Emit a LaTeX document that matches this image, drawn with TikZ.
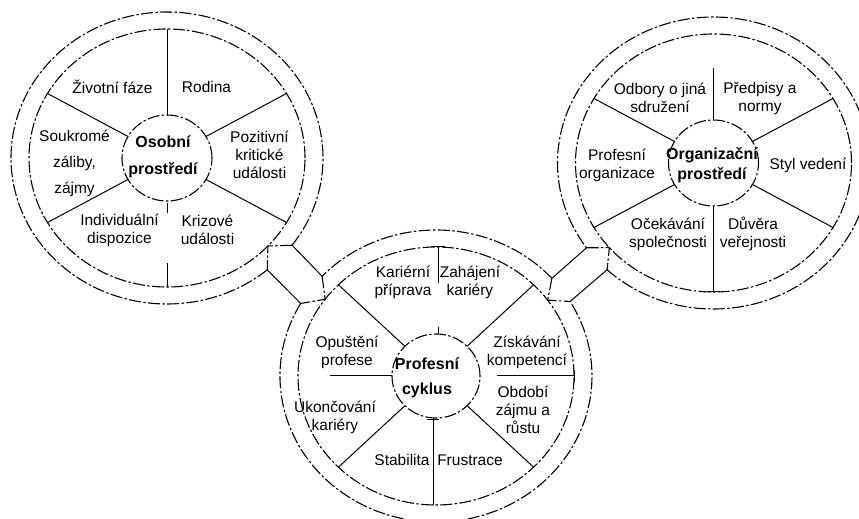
\documentclass[tikz,border=0pt]{standalone}
\usepackage{fontspec}
\setmainfont{Liberation Sans}

\begin{document}
\begin{tikzpicture}[x=0.5pt,y=0.5pt,
    ring/.style={line width=0.55pt,dash pattern=on 6pt off 1.2pt on 1.2pt off 1.2pt},
    spoke/.style={line width=0.5pt},
    lbl/.style={font=\fontsize{7.75}{9}\selectfont,align=center,inner sep=0pt},
    hub/.style={font=\fontsize{8}{9}\selectfont\bfseries,align=center,inner sep=0pt}]
    \clip (0,0) rectangle (859,-519);

    % Osobni prostredi
    \begin{scope}[shift={(167,-158)}]
        \draw[ring] (0,0) ellipse [x radius=45,y radius=43];
        \draw[ring] (0,0) ellipse [x radius=138,y radius=129];
        \draw[ring] (-36.7:156 and 146)
            arc[start angle=-36.7,end angle=310,x radius=156,y radius=146];
        \coordinate (lA) at (-36.7:156 and 146);
        \coordinate (lB) at (-43:138 and 129);
        \coordinate (lC) at (-50:156 and 146);
        \draw[spoke] (90:45 and 43) -- (90:138 and 129);
        \draw[spoke] (30:45 and 43) -- (30:138 and 129);
        \draw[spoke] (150:45 and 43) -- (150:138 and 129);
        \draw[spoke] (210:45 and 43) -- (210:138 and 129);
        \draw[spoke] (330:45 and 43) -- (330:138 and 129);
        \draw[spoke] (0,-45) -- (0,-55);
        \draw[spoke] (0,-105) -- (0,-129);
        \node[lbl] (zivotni) at (-54.5,71) {Životní fáze};
        \node[lbl] (rodina) at (39.5,71) {Rodina};
        \node[lbl] (pozitivni) at (92.5,3) {Pozitivní\\kritické\\události};
        \node[lbl] (soukrome) at (-92.5,-5) {Soukromé\\[4pt]záliby,\\[4pt]zájmy};
        \node[lbl] (individualni) at (-47.5,-72) {Individuální\\dispozice};
        \node[lbl] (krizove) at (40.5,-72) {Krizové\\události};
        \node[hub] (osobni) at (-4,1) {Osobní\\[4.5pt]prostředí};
    \end{scope}

    % Profesni cyklus
    \begin{scope}[shift={(436,-376)}]
        \draw[ring] (0,0) ellipse [x radius=44,y radius=42];
        \draw[ring] (0,0) ellipse [x radius=138,y radius=129];
        \draw[ring] (42:156 and 146)
            arc[start angle=42,end angle=136.9,x radius=156,y radius=146];
        \draw[ring] (150.2:156 and 146)
            arc[start angle=150.2,end angle=390.7,x radius=156,y radius=146];
        \coordinate (mE) at (136.9:156 and 146);
        \coordinate (mD) at (143.5:138 and 129);
        \coordinate (mF) at (150.2:156 and 146);
        \coordinate (mG) at (42:156 and 146);
        \coordinate (mH) at (36:138 and 129);
        \coordinate (mK) at (30.7:156 and 146);
        \draw[spoke] (2,129) -- (2,93);
        \draw[spoke] (-5,129) -- (9,129);
        \draw[spoke] (2,49) -- (2,42);
        \draw[spoke] (45:44 and 42) -- (45:138 and 129);
        \draw[spoke] (61,0) -- (138,0);
        \draw[spoke] (138,-6) -- (138,6);
        \draw[spoke] (-45:44 and 42) -- (-45:138 and 129);
        \draw[spoke] (-3,-42) -- (-3,-129);
        \draw[spoke] (-9,-44) -- (3,-44);
        \draw[spoke] (-135:44 and 42) -- (-135:138 and 129);
        \draw[spoke] (-106,0) -- (-44,0);
        \draw[spoke] (135:44 and 42) -- (135:138 and 129);
        \node[lbl] (karierni) at (-33,94) {Kariérní\\příprava};
        \node[lbl] (zahajeni) at (34,94) {Zahájení\\kariéry};
        \node[lbl] (ziskavani) at (91,24) {Získávání\\kompetencí};
        \node[lbl] (obdobi) at (87,-34) {Období\\zájmu a\\růstu};
        \node[lbl] (frustrace) at (34,-84) {Frustrace};
        \node[lbl] (stabilita) at (-34,-84) {Stabilita};
        \node[lbl] (ukoncovani) at (-101,-41) {Ukončování\\kariéry};
        \node[lbl] (opusteni) at (-89,24) {Opuštění\\profese};
        \node[hub] (profesni) at (-9,-2) {Profesní\\[3.5pt]cyklus};
    \end{scope}

    % Organizacni prostredi
    \begin{scope}[shift={(713.5,-163)}]
        \draw[ring] (0,0) ellipse [x radius=45,y radius=43];
        \draw[ring] (0,0) ellipse [x radius=138,y radius=129];
        \draw[ring] (227:156 and 146)
            arc[start angle=227,end angle=575.5,x radius=156,y radius=146];
        \coordinate (rA) at (215.5:156 and 146);
        \coordinate (rB) at (221:138 and 129);
        \coordinate (rC) at (227:156 and 146);
        \draw[spoke] (0,95) -- (0,43);
        \draw[spoke] (30:45 and 43) -- (30:138 and 129);
        \draw[spoke] (150:45 and 43) -- (150:138 and 129);
        \draw[spoke] (210:45 and 43) -- (210:138 and 129);
        \draw[spoke] (330:45 and 43) -- (330:138 and 129);
        \draw[spoke] (0,-43) -- (0,-129);
        \draw[spoke] (-6,-129) -- (6,-129);
        \node[lbl] (odbory) at (-53.5,65) {Odbory o jiná\\sdružení};
        \node[lbl] (predpisy) at (46.5,65) {Předpisy a\\normy};
        \node[lbl] (organizace) at (-96.5,-2) {Profesní\\organizace};
        \node[lbl] (styl) at (94.5,-2) {Styl vedení};
        \node[lbl] (ocekavani) at (-45.5,-71) {Očekávání\\společnosti};
        \node[lbl] (duvera) at (39.5,-71) {Důvěra\\veřejnosti};
        \node[hub] (organizacni) at (-1.5,-2) {Organizační\\[1pt]prostředí};
    \end{scope}

    % arrows between the rings
    \draw[spoke] (lA) -- (mE);
    \draw[spoke] (lC) -- (mF);
    \draw[ring] (lA) -- (lB) -- (lC);
    \draw[ring] (mE) -- (mD) -- (mF);
    \draw[spoke] (mG) -- (rA);
    \draw[spoke] (mK) -- (rC);
    \draw[ring] (mG) -- (mH) -- (mK);
    \draw[ring] (rA) -- (rB) -- (rC);
\end{tikzpicture}
\end{document}
